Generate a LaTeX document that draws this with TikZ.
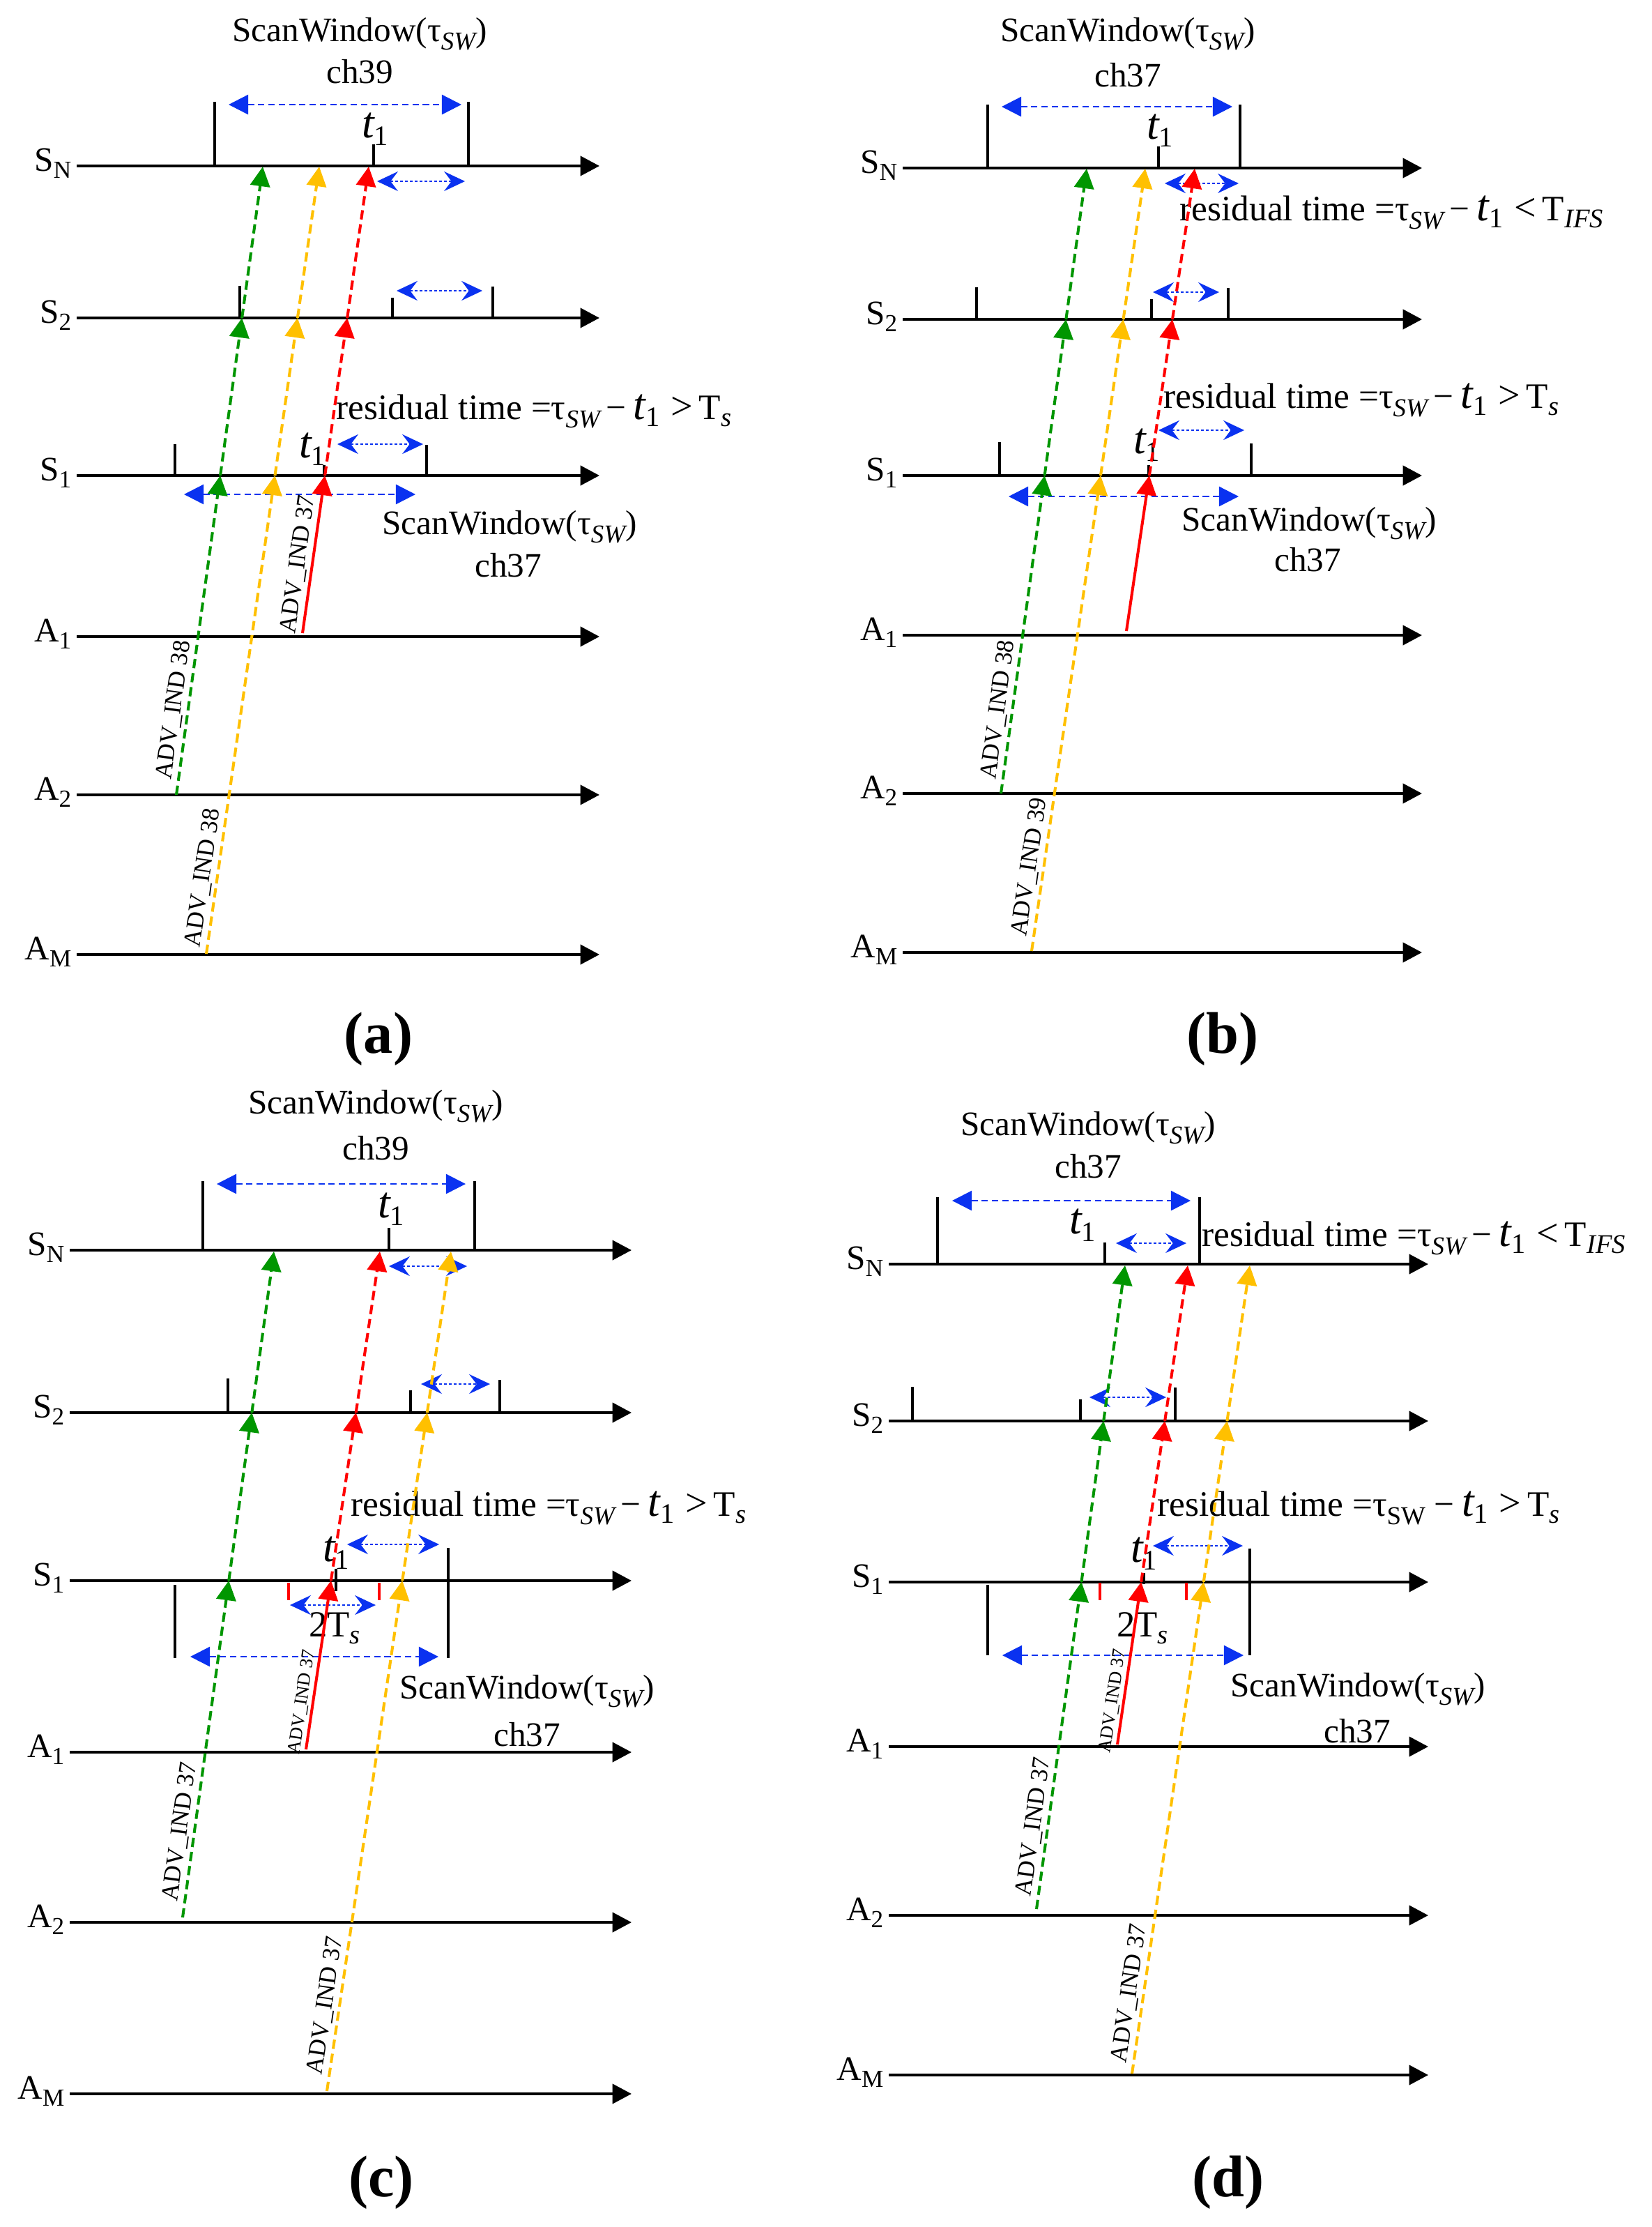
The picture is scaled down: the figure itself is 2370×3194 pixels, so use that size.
\documentclass[tikz,border=0pt]{standalone}
\usepackage{fontspec}
\setmainfont{Liberation Serif}
\usetikzlibrary{arrows.meta}
\definecolor{cg}{RGB}{0,150,0}
\definecolor{co}{RGB}{255,192,0}
\definecolor{cr}{RGB}{255,0,0}
\definecolor{cb}{RGB}{10,50,240}
\newcommand\axsub[1]{\raisebox{-3pt}{\fontsize{10}{10}\selectfont #1}}
\newcommand\tsw{τ\raisebox{-3.5pt}{\fontsize{10.5}{10}\selectfont\itshape SW}}
\newcommand\tswu{τ\raisebox{-3.5pt}{\fontsize{10.5}{10}\selectfont SW}}
\newcommand\tone{{\fontsize{18}{18}\selectfont\itshape t}\raisebox{-3pt}{\fontsize{11.5}{10}\selectfont 1}}
\newcommand\Ts{T\raisebox{-3pt}{\fontsize{11}{10}\selectfont\itshape s}}
\newcommand\Tifs{T\raisebox{-3pt}{\fontsize{11}{10}\selectfont\itshape IFS}}
\newcommand\relop[1]{\hspace{4.5pt}{\fontsize{16}{16}\selectfont #1}\hspace{2.5pt}}
\newcommand\panelaxes[4]{%
  \foreach \nm/\L/\s/\y in {#4}{%
    \coordinate (#1\nm-l) at (#2,\y);
    \coordinate (#1\nm-r) at (#3,\y);
    \draw[axis] (#1\nm-l) -- (#1\nm-r);
    \node[txt, anchor=base east] (#1\nm-t) at ([shift={(-7,7)}]#1\nm-l) {\L\axsub{\s}};
  }}
\newcommand\signal[7]{%
  \coordinate (#1-a) at #4;
  \coordinate (#1-b) at #5;
  \coordinate (#1-1) at (intersection cs: first line={(#1-a)--(#1-b)}, second line={(#6-l)--(#6-r)});
  \coordinate (#1-2) at (intersection cs: first line={(#1-a)--(#1-b)}, second line={(#7-l)--(#7-r)});
  \draw[sg,#2,#3] (#1-a) -- (#1-1);
  \draw[sg,#2] (#1-1) -- (#1-2);
  \draw[sg,#2] (#1-2) -- (#1-b);
}
\begin{document}
\begin{tikzpicture}[x=0.1mm,y=-0.1mm,
  axis/.style={line width=1.15pt, -{Triangle[length=7.8pt,width=8pt]}},
  tickl/.style={line width=1pt},
  rtick/.style={line width=1pt, cr},
  win/.style={cb, line width=0.7pt, dash pattern=on 2.6pt off 1.6pt, {Triangle[length=8pt,width=8pt]}-{Triangle[length=8pt,width=8pt]}},
  res/.style={cb, line width=0.6pt, dash pattern=on 1.2pt off 0.8pt, {Stealth[length=8.5pt,width=8pt,inset=3pt]}-{Stealth[length=8.5pt,width=8pt,inset=3pt]}},
  sg/.style={line width=1.15pt, dash pattern=on 3.8pt off 2pt, -{Triangle[length=8pt,width=8pt]}},
  txt/.style={font=\fontsize{14}{16}\selectfont, inner sep=0pt},
  rtxt/.style={font=\fontsize{14.6}{17}\selectfont, inner sep=0pt, anchor=west},
  adv/.style={font=\fontsize{10}{12}\selectfont, inner sep=1.5pt, sloped, above},
  advs/.style={font=\fontsize{7.5}{9}\selectfont, inner sep=1.2pt, sloped, above},
  plab/.style={font=\fontsize{24}{28}\selectfont\bfseries, inner sep=0pt}]
\useasboundingbox[fill=white] (0,0) rectangle (2370,3194);

% ================= panel (a) =================
\panelaxes{a}{110}{860}{SN/S/N/238,S2/S/2/456,S1/S/1/682,A1/A/1/913,A2/A/2/1140,AM/A/M/1369}
\draw[tickl] (308,146) -- (308,238); \draw[tickl] (672,146) -- (672,238); \draw[tickl] (536,207) -- (536,238);
\draw[tickl] (344,410) -- (344,456); \draw[tickl] (563,427) -- (563,456); \draw[tickl] (707,411) -- (707,456);
\draw[tickl] (251,637) -- (251,682); \draw[tickl] (465,667) -- (465,682); \draw[tickl] (612,638) -- (612,682);
\draw[win] (328,150) -- (662,150);
\draw[win] (264,709) -- (596,709);
\draw[res] (541,260) -- (667,260);
\draw[res] (569,417) -- (692,417);
\draw[res] (484,637) -- (607,637);
\node[txt] (a-sw1) at (516,49) {ScanWindow(\tsw)};
\node[txt] (a-ch1) at (516,103) {ch39};
\node[txt] (a-t1a) at (538,185) {\tone};
\node[txt] (a-t1b) at (448,644) {\tone};
\node[rtxt] (a-res) at (482,590) {residual time =\tsw\,−\hspace{3pt}\tone\relop{>}\Ts};
\node[txt] (a-sw2) at (731,756) {ScanWindow(\tsw)};
\node[txt] (a-ch2) at (729,811) {ch37};
\signal{ag}{cg}{}{(253,1140)}{(377,239)}{aS1}{aS2}
\signal{ao}{co}{}{(296,1368)}{(458,239)}{aS1}{aS2}
\signal{ar}{cr}{solid}{(434,908)}{(529,239)}{aS1}{aS2}
\path (ag-a) -- (ag-b) node[adv,pos=0.132] (ag-lab) {ADV\_IND 38};
\path (ao-a) -- (ao-b) node[adv,pos=0.094] (ao-lab) {ADV\_IND 38};
\path (ar-a) -- (ar-b) node[adv,pos=0.143] (ar-lab) {ADV\_IND 37};
\node[plab] (a-lab) at (543,1490) {(a)};

% ================= panel (b) =================
\panelaxes{b}{1295}{2040}{SN/S/N/241,S2/S/2/458,S1/S/1/682,A1/A/1/911,A2/A/2/1138,AM/A/M/1366}
\draw[tickl] (1417,150) -- (1417,241); \draw[tickl] (1779,150) -- (1779,241); \draw[tickl] (1662,210) -- (1662,241);
\draw[tickl] (1401,412) -- (1401,458); \draw[tickl] (1652,429) -- (1652,458); \draw[tickl] (1762,413) -- (1762,458);
\draw[tickl] (1434,634) -- (1434,682); \draw[tickl] (1648,667) -- (1648,682); \draw[tickl] (1795,636) -- (1795,682);
\draw[win] (1437,153) -- (1768,153);
\draw[win] (1447,712) -- (1777,712);
\draw[res] (1671,263) -- (1777,263);
\draw[res] (1654,419) -- (1749,419);
\draw[res] (1662,617) -- (1785,617);
\node[txt] (b-sw1) at (1618,49) {ScanWindow(\tsw)};
\node[txt] (b-ch1) at (1618,108) {ch37};
\node[txt] (b-t1a) at (1664,187) {\tone};
\node[rtxt] (b-res1) at (1692,305) {residual time =\tsw\,−\hspace{3pt}\tone\relop{<}\Tifs};
\node[txt] (b-t1b) at (1645,638) {\tone};
\node[rtxt] (b-res2) at (1669,574) {residual time =\tsw\,−\hspace{3pt}\tone\relop{>}\Ts};
\node[txt] (b-sw2) at (1878,751) {ScanWindow(\tsw)};
\node[txt] (b-ch2) at (1876,803) {ch37};
\signal{bg}{cg}{}{(1436,1138)}{(1559,242)}{bS1}{bS2}
\signal{bo}{co}{}{(1480,1364)}{(1643,242)}{bS1}{bS2}
\signal{br}{cr}{solid}{(1616,905)}{(1714,242)}{bS1}{bS2}
\path (bg-a) -- (bg-b) node[adv,pos=0.131] (bg-lab) {ADV\_IND 38};
\path (bo-a) -- (bo-b) node[adv,pos=0.105] (bo-lab) {ADV\_IND 39};
\node[plab] (b-lab) at (1754,1490) {(b)};

% ================= panel (c) =================
\panelaxes{c}{100}{906}{SN/S/N/1793,S2/S/2/2026,S1/S/1/2267,A1/A/1/2513,A2/A/2/2757,AM/A/M/3003}
\draw[tickl] (291,1694) -- (291,1793); \draw[tickl] (681,1694) -- (681,1793); \draw[tickl] (558,1761) -- (558,1793);
\draw[tickl] (327,1977) -- (327,2026); \draw[tickl] (589,1994) -- (589,2026); \draw[tickl] (717,1979) -- (717,2026);
\draw[tickl] (482,2250) -- (482,2282); \draw[tickl] (643,2220) -- (643,2378); \draw[tickl] (251,2273) -- (251,2378);
\draw[rtick] (414,2270) -- (414,2295); \draw[rtick] (544,2270) -- (544,2295);
\draw[win] (311,1698) -- (668,1698);
\draw[win] (273,2376) -- (629,2376);
\draw[res] (558,1816) -- (670,1816);
\draw[res] (604,1985) -- (703,1985);
\draw[res] (498,2215) -- (630,2215);
\draw[res] (416,2302) -- (539,2302);
\node[txt] (c-sw1) at (539,1587) {ScanWindow(\tsw)};
\node[txt] (c-ch1) at (539,1647) {ch39};
\node[txt] (c-t1a) at (561,1734) {\tone};
\node[rtxt] (c-res) at (503,2163) {residual time =\tsw\,−\hspace{3pt}\tone\relop{>}\Ts};
\node[txt] (c-t1b) at (482,2227) {\tone};
\node[txt,font=\fontsize{15}{17}\selectfont] (c-2ts) at (480,2335) {2\Ts};
\node[txt] (c-sw2) at (756,2426) {ScanWindow(\tsw)};
\node[txt] (c-ch2) at (756,2488) {ch37};
\signal{cgr}{cg}{}{(262,2750)}{(393,1795)}{cS1}{cS2}
\signal{cor}{co}{}{(469,2999)}{(647,1795)}{cS1}{cS2}
\signal{crr}{cr}{solid}{(439,2509)}{(545,1795)}{cS1}{cS2}
\path (cgr-a) -- (cgr-b) node[adv,pos=0.126] (cg-lab) {ADV\_IND 37};
\path (cor-a) -- (cor-b) node[adv,pos=0.0996] (co-lab) {ADV\_IND 37};
\path (crr-a) -- (crr-b) node[advs,pos=0.092] (cr-lab) {ADV\_IND 37};
\node[plab] (c-lab) at (547,3130) {(c)};

% ================= panel (d) =================
\panelaxes{d}{1275}{2049}{SN/S/N/1813,S2/S/2/2038,S1/S/1/2269,A1/A/1/2505,A2/A/2/2747,AM/A/M/2976}
\draw[tickl] (1345,1717) -- (1345,1813); \draw[tickl] (1721,1717) -- (1721,1813); \draw[tickl] (1585,1782) -- (1585,1813);
\draw[tickl] (1309,1989) -- (1309,2038); \draw[tickl] (1550,2007) -- (1550,2038); \draw[tickl] (1686,1990) -- (1686,2038);
\draw[tickl] (1641,2256) -- (1641,2272); \draw[tickl] (1793,2221) -- (1793,2374); \draw[tickl] (1417,2273) -- (1417,2374);
\draw[rtick] (1578,2270) -- (1578,2295); \draw[rtick] (1702,2270) -- (1702,2295);
\draw[win] (1366,1722) -- (1708,1722);
\draw[win] (1438,2374) -- (1784,2374);
\draw[res] (1601,1783) -- (1702,1783);
\draw[res] (1563,2004) -- (1673,2004);
\draw[res] (1654,2217) -- (1783,2217);
\node[txt] (d-sw1) at (1561,1618) {ScanWindow(\tsw)};
\node[txt] (d-ch1) at (1561,1673) {ch37};
\node[txt] (d-t1a) at (1553,1757) {\tone};
\node[rtxt] (d-res1) at (1724,1776) {residual time =\tsw\,−\hspace{3pt}\tone\relop{<}\Tifs};
\node[txt] (d-t1b) at (1641,2228) {\tone};
\node[rtxt] (d-res2) at (1660,2163) {residual time =\tswu\ −\hspace{3pt}\tone\relop{>}\Ts};
\node[txt,font=\fontsize{15}{17}\selectfont] (d-2ts) at (1639,2335) {2\Ts};
\node[txt] (d-sw2) at (1948,2423) {ScanWindow(\tsw)};
\node[txt] (d-ch2) at (1947,2483) {ch37};
\signal{dgr}{cg}{}{(1487,2738)}{(1614,1815)}{dS1}{dS2}
\signal{dor}{co}{}{(1624,2974)}{(1793,1815)}{dS1}{dS2}
\signal{drr}{cr}{solid}{(1603,2502)}{(1704,1815)}{dS1}{dS2}
\path (dgr-a) -- (dgr-b) node[adv,pos=0.125] (dg-lab) {ADV\_IND 37};
\path (dor-a) -- (dor-b) node[adv,pos=0.097] (do-lab) {ADV\_IND 37};
\path (drr-a) -- (drr-b) node[advs,pos=0.088] (dr-lab) {ADV\_IND 37};
\node[plab] (d-lab) at (1762,3130) {(d)};
\end{tikzpicture}
\end{document}
